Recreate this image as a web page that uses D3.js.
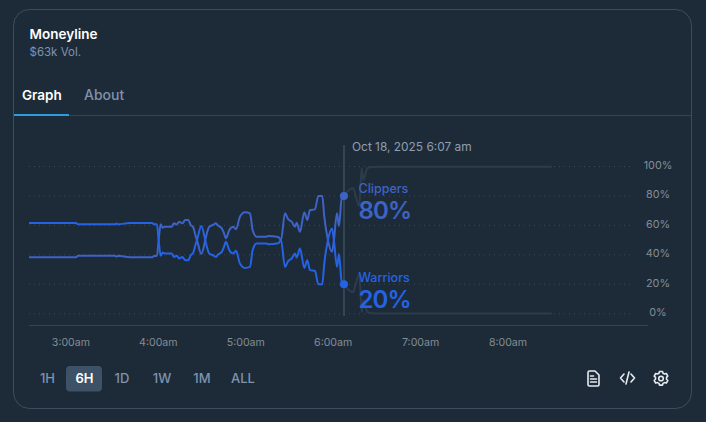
<!DOCTYPE html>
<html><head><meta charset="utf-8">
<script src="https://cdnjs.cloudflare.com/ajax/libs/d3/7.8.5/d3.min.js"></script>
<style>html,body{margin:0;padding:0;background:#1d2b39;overflow:hidden}svg{display:block}text{font-family:Inter,"Liberation Sans",sans-serif}</style>
</head><body><svg id="c" width="706" height="422"></svg>
<script>
const minutes=[-28.8,3.4,4.8,30.2,31.2,32.3,40.5,55.6,57,59,60.2,61.6,63,64.5,69.1,70.7,72.6,74.3,76.4,78.5,80.5,82.2,83.9,85.8,86.5,89.5,92.2,93.4,94.9,97.5,99.5,100.9,103.5,105,106.4,108.7,111.4,113.3,116,119.5,122.9,124.7,127.5,134.3,135.2,142.3,144.2,146.9,149.2,151.5,153.8,154.9,157.2,160.2,162.2,164.1,167.5,169.8,172.5,173.9,176.4,179.2,180.5,182.6,184,186,187.4,191.5,193.8,195.6,197.9,199.6,200.7,203.4,206.4,214.2,330];
const clippers=[38.3,38.3,39.3,39.3,38.8,39.3,38.3,38.3,39.2,39.2,50,60.7,58.4,59.1,59.1,61.4,60.6,62.5,61.4,63.7,63.7,60.3,58.7,52,50,40.5,50,55,59.1,60.3,61.4,59.9,58,54.8,51.2,56.9,59.1,57.3,65.9,68.9,68.2,56.9,52.3,52.3,52.8,52.1,50,68.2,64.1,62.5,59.1,61.8,55.7,68.9,63.7,70.4,70.9,80,80,65.9,50,42.1,50,68.2,59.5,80,80,84.5,85.2,79.5,73.2,98.8,90.8,98.8,99.7,99.9,99.9];
const warriors=[61.7,61.7,60.7,60.7,61.2,60.7,61.7,61.7,60.8,60.8,50,39.3,41.6,40.9,40.9,38.6,39.4,37.5,38.6,36.3,36.3,39.7,41.3,48,50,59.5,50,45,40.9,39.7,38.6,40.1,42,45.2,48.8,43.1,40.9,42.7,34.1,31.1,31.8,43.1,47.7,47.7,47.2,47.9,50,31.8,35.9,37.5,40.9,38.2,44.3,31.1,36.3,29.6,29.1,20,20,34.1,50,57.9,50,31.8,40.5,20,20,15.5,14.8,20.5,26.8,1.2,9.2,1.2,0.3,0.1,0.1];
const cursorMinute=187.4;
const yTicks=[100,80,60,40,20,0];
const hourTicks=[0,60,120,180,240,300];
const hourLabels=["3:00am","4:00am","5:00am","6:00am","7:00am","8:00am"];
const rangeLabels=["1H","6H","1D","1W","1M","ALL"];
const rangeCenters=[47.5,84.5,122,162,202,243];

const C={bg:"#1d2b39",border:"#3b4e60",rule:"#344452",muted:"#7f93ad",tick:"#858d92",clip:"#3d63c6",war:"#2563e6",future:"#2b3d4a",cursor:"#354554",grid:"#3a4854"};
const svg=d3.select("#c");
svg.append("rect").attr("x",13.5).attr("y",9.5).attr("width",678).attr("height",399).attr("rx",16).attr("fill",C.bg).attr("stroke",C.border);
const T=(x,y,s,size,fill,w,anchor)=>svg.append("text").attr("x",x).attr("y",y).text(s).attr("font-size",size).attr("fill",fill).attr("font-weight",w||400).attr("text-anchor",anchor||"start");
T(29.5,38.5,"Moneyline",13.5,"#ffffff",600);
T(29.5,56,"$63k Vol.",11.5,C.muted,400);
T(22,100,"Graph",13.5,"#ffffff",600);
T(84,100,"About",14,C.muted,500);
svg.append("line").attr("x1",14).attr("x2",691).attr("y1",115.5).attr("y2",115.5).attr("stroke",C.rule);
svg.append("rect").attr("x",14).attr("y",114).attr("width",55).attr("height",2).attr("fill","#2d9cdb");

const x=d3.scaleLinear().domain([-28.8,330]).range([29,551.7]);
const y=d3.scaleLinear().domain([0,100]).range([313.7,166.5]);
const g=svg.append("g");
g.selectAll(".grid").data(yTicks).join("line").attr("x1",29).attr("x2",634).attr("y1",d=>y(d)).attr("y2",d=>y(d)).attr("stroke",C.grid).attr("stroke-dasharray","1 4").attr("stroke-width",1);
g.append("line").attr("x1",29).attr("x2",648).attr("y1",325.5).attr("y2",325.5).attr("stroke",C.rule);
g.selectAll(".yt").data(yTicks).join("text").attr("x",658).attr("y",d=>y(d)+2.5).attr("text-anchor","middle").attr("font-size",10.8).attr("fill",C.tick).text(d=>d+"%");
g.selectAll(".xt").data(hourTicks).join("text").attr("x",d=>x(d)).attr("y",346).attr("text-anchor","middle").attr("font-size",10.6).attr("fill",C.tick).text((d,i)=>hourLabels[i]);

const line=d3.line().x(d=>x(d[0])).y(d=>y(d[1])).curve(d3.curveMonotoneX);
const pts=a=>minutes.map((m,i)=>[m,a[i]]);
const past=a=>pts(a).filter(d=>d[0]<=cursorMinute);
const fut=a=>pts(a).filter(d=>d[0]>=cursorMinute);
[clippers,warriors].forEach(a=>g.append("path").attr("d",line(fut(a))).attr("fill","none").attr("stroke",C.future).attr("stroke-width",2));
g.append("line").attr("x1",x(cursorMinute)).attr("x2",x(cursorMinute)).attr("y1",145).attr("y2",316).attr("stroke",C.cursor).attr("stroke-width",2);
g.append("path").attr("d",line(past(clippers))).attr("fill","none").attr("stroke",C.clip).attr("stroke-width",2);
g.append("path").attr("d",line(past(warriors))).attr("fill","none").attr("stroke",C.war).attr("stroke-width",2);
const cv=clippers[minutes.indexOf(cursorMinute)], wv=warriors[minutes.indexOf(cursorMinute)];
g.append("circle").attr("cx",x(cursorMinute)).attr("cy",y(cv)).attr("r",4).attr("fill",C.clip);
g.append("circle").attr("cx",x(cursorMinute)).attr("cy",y(wv)).attr("r",4).attr("fill",C.war);
T(352,150.5,"Oct 18, 2025 6:07 am",11.9,"#8f9eb0",400);
T(358.5,193,"Clippers",12.5,C.clip,500);
T(358.5,218.5,cv+"%",24,C.clip,600).attr("letter-spacing",-0.9);
T(358.5,282,"Warriors",12.5,C.war,500);
T(358.5,307.5,wv+"%",24,C.war,600).attr("letter-spacing",-0.9);

svg.append("rect").attr("x",66).attr("y",366).attr("width",36).attr("height",25.5).attr("rx",4).attr("fill","#3d5266");
rangeLabels.forEach((s,i)=>T(rangeCenters[i],383,s,13,i==1?"#ffffff":C.muted,i==1?600:500,"middle"));

const ic=svg.append("g").attr("fill","none").attr("stroke","#e6ebf0").attr("stroke-width",1.6).attr("stroke-linecap","round").attr("stroke-linejoin","round");
ic.append("path").attr("d","M588 372.5a1.5 1.5 0 0 1 1.5-1.5h5.5l4 4v9.5a1.5 1.5 0 0 1-1.5 1.5h-8a1.5 1.5 0 0 1-1.5-1.5zM590.5 376h3M590.5 379h6M590.5 382h6");
ic.append("path").attr("d","M624 374l-3.5 4 3.5 4M631 374l3.500 4-3.500 4M629 372l-3 12");
ic.append("circle").attr("cx",661).attr("cy",378.500).attr("r",2.300);
ic.append("path").attr("d","M659.500 371.500h3l.5 1.700 1.500.8 1.800-.5 1.500 2.600-1.300 1.300v1.800l1.300 1.300-1.500 2.600-1.800-.5-1.500.8-.5 1.700h-3l-.5-1.700-1.500-.8-1.800.5-1.500-2.600 1.300-1.300v-1.800l-1.300-1.300 1.500-2.600 1.800.5 1.500-.8z");
</script></body></html>
